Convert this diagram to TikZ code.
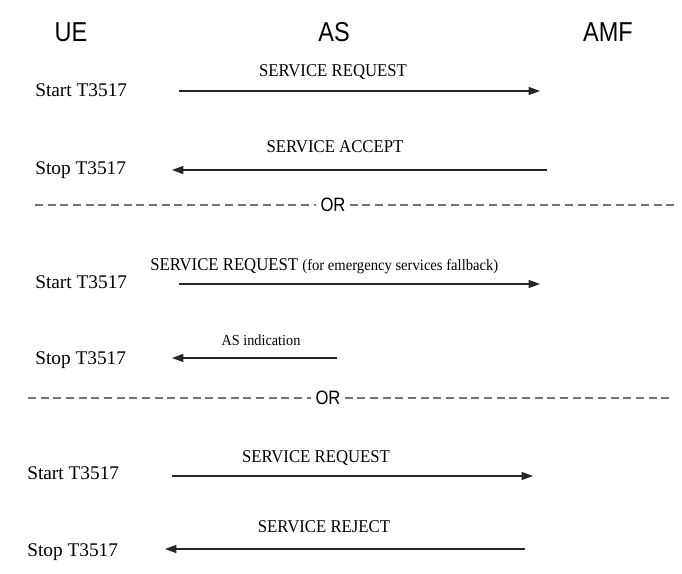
\documentclass[tikz,border=0pt]{standalone}
\usepackage{fontspec}
\setmainfont{Liberation Serif}
\newfontfamily\hdrfont{Liberation Sans}[FakeStretch=0.86]
\newfontfamily\msgfont{Liberation Serif}[FakeStretch=0.93]
\usetikzlibrary{arrows.meta}
\begin{document}
\begin{tikzpicture}[
    x=0.75pt, y=-0.75pt,
    entity/.style={anchor=base, inner sep=0pt, font=\hdrfont\fontsize{20.5}{22}\selectfont},
    timer/.style={anchor=base west, inner sep=0pt, font=\fontsize{14.5}{16}\selectfont},
    msg/.style={anchor=base, inner sep=0pt, font=\msgfont\fontsize{13.5}{15}\selectfont},
    msgarrow/.style={-{Triangle[length=8.5pt, width=6pt]}, line width=0.9pt, black!85},
    sep/.style={dash pattern=on 6pt off 3.5pt, line width=0.8pt, black!55},
    orlabel/.style={inner sep=3pt, font=\hdrfont\fontsize{14.5}{16}\selectfont}
]
    \useasboundingbox (0,0) rectangle (682,574);

    % Entities
    \node[entity] (ue)  at (71,42)  {UE};
    \node[entity] (as)  at (334,42) {AS};
    \node[entity] (amf) at (608,42) {AMF};

    % Case 1: service accept
    \node[timer] (t1) at (35,97) {Start T3517};
    \node[msg] (m1) at (333,77) {SERVICE REQUEST};
    \coordinate (a1s) at (179,91);
    \coordinate (a1e) at (540,91);
    \draw[msgarrow] (a1s) -- (a1e);

    \node[timer] (t2) at (35,175) {Stop T3517};
    \node[msg] (m2) at (335,153) {SERVICE ACCEPT};
    \coordinate (a2s) at (547,170);
    \coordinate (a2e) at (172,170);
    \draw[msgarrow] (a2s) -- (a2e);

    % First OR
    \node[orlabel] (or1) at (333,205) {OR};
    \coordinate (d1l) at (35,205);
    \coordinate (d1r) at (676,205);
    \draw[sep] (d1l) -- (or1.west);
    \draw[sep] (or1.east) -- (d1r);

    % Case 2: emergency services fallback
    \node[timer] (t3) at (35,288) {Start T3517};
    \node[msg, anchor=base west] (m3) at (150,271) {SERVICE REQUEST {\fontsize{11.8}{13}\selectfont(for emergency services fallback)}};
    \coordinate (a3s) at (179,284);
    \coordinate (a3e) at (540,284);
    \draw[msgarrow] (a3s) -- (a3e);

    \node[timer] (t4) at (35,364) {Stop T3517};
    \node[msg, font=\msgfont\fontsize{11.5}{12}\selectfont] (m4) at (261,345) {AS indication};
    \coordinate (a4s) at (337,358);
    \coordinate (a4e) at (172,358);
    \draw[msgarrow] (a4s) -- (a4e);

    % Second OR
    \node[orlabel] (or2) at (328,398) {OR};
    \coordinate (d2l) at (28,398);
    \coordinate (d2r) at (670,398);
    \draw[sep] (d2l) -- (or2.west);
    \draw[sep] (or2.east) -- (d2r);

    % Case 3: service reject
    \node[timer] (t5) at (27,479) {Start T3517};
    \node[msg] (m5) at (316,462) {SERVICE REQUEST};
    \coordinate (a5s) at (172,476);
    \coordinate (a5e) at (533,476);
    \draw[msgarrow] (a5s) -- (a5e);

    \node[timer] (t6) at (27,556) {Stop T3517};
    \node[msg] (m6) at (324,532) {SERVICE REJECT};
    \coordinate (a6s) at (525,549);
    \coordinate (a6e) at (165,549);
    \draw[msgarrow] (a6s) -- (a6e);
\end{tikzpicture}
\end{document}
